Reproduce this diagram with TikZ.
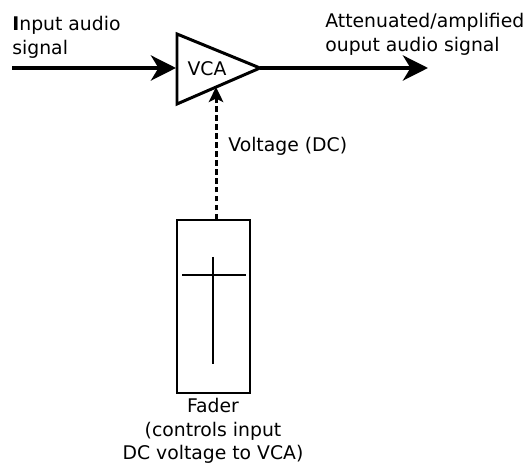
\documentclass[tikz,border=0pt]{standalone}
\usepackage{fontspec}
\setmainfont{DejaVu Sans}
\usetikzlibrary{arrows.meta,calc}

\tikzset{
  sig/.style={line width=2.6pt,-{Stealth[length=0.5cm,width=0.5cm,inset=0.15cm]}},
  ctrl/.style={line width=1.7pt,dash pattern=on 3.1pt off 2pt,-{Stealth[length=0.3cm,width=0.29cm,inset=0.07cm]}},
  lbl/.style={inner sep=0pt,font=\fontsize{10.7}{13.4}\selectfont}
}

\begin{document}
\begin{tikzpicture}[x=0.02cm,y=-0.02cm]
  \useasboundingbox (0,0) rectangle (530,465);
  % amplifier
  \draw[line width=1.7pt,line join=miter] (177,34) coordinate (tl) -- (260,68) coordinate (tip) -- (177,104) coordinate (bl) -- cycle;
  \node[lbl] (vca) at (207,69) {VCA};
  \coordinate (lm) at (176,68); \coordinate (in) at (12,68); \coordinate (out) at (428,68);
  \draw[sig] (in) -- (lm); \draw[sig] (tip) -- (out);
  \node[lbl,align=left,anchor=north west] (inlbl) at (12,16) {\textbf{I}nput audio\\signal};
  \node[lbl,align=left,anchor=north west] (outlbl) at (325,13) {Attenuated/amplified\\ouput audio signal};
  % fader
  \node[draw,line width=0.75pt,minimum width=1.46cm,minimum height=3.46cm,inner sep=0pt] (fader) at (213.5,306.5) {};
  \draw[line width=0.75pt] (182,275) -- (246,275); \draw[line width=0.75pt] (213,257) -- (213,364);
  \coordinate (cv) at ($(bl)!0.47!(tip)$);
  \draw[ctrl] (fader.north -| cv) -- (cv);
  \node[lbl,anchor=base west] (vlbl) at (228,152) {Voltage (DC)};
  \node[lbl,align=center,anchor=north] (flbl) at (213,398) {Fader\\(controls input\\DC voltage to VCA)};
\end{tikzpicture}
\end{document}
